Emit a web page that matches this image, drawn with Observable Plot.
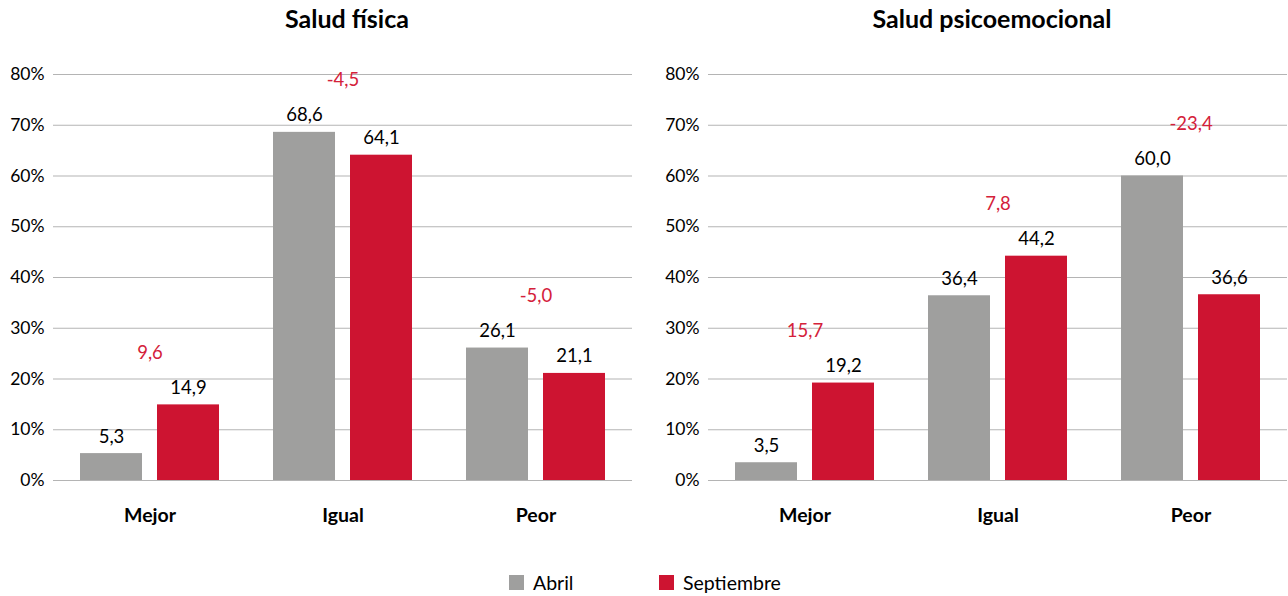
<!DOCTYPE html>
<html>
<head>
<meta charset="utf-8">
<script src="https://cdn.jsdelivr.net/npm/d3@7"></script>
<script src="https://cdn.jsdelivr.net/npm/@observablehq/plot@0.6"></script>
<style>
  html, body { margin: 0; padding: 0; background: #fff; }
  body { width: 1288px; height: 596px; position: relative; overflow: hidden; font-family: Lato, "Open Sans", sans-serif; color: #000; }
  .title { position: absolute; top: 3px; font-size: 25px; font-weight: 700; text-align: center; }
  .panel { position: absolute; top: 40px; }
  .panel svg g[aria-label^="fx-axis"] text { font-weight: 700; font-size: 19.5px; }
  .legend { position: absolute; top: 571px; left: 0; width: 1288px; font-size: 19.5px; }
  .legend .item { position: absolute; display: flex; align-items: center; }
  .legend .sw { width: 15px; height: 15px; margin-right: 9px; }
</style>
</head>
<body>
<div class="title" style="left:52px;width:590px;">Salud física</div>
<div class="title" style="left:697px;width:590px;">Salud psicoemocional</div>
<div class="panel" id="p1" style="left:0px;"></div>
<div class="panel" id="p2" style="left:644px;"></div>
<div class="legend">
  <div class="item" style="left:509px;"><div class="sw" style="background:#9f9f9e"></div>Abril</div>
  <div class="item" style="left:659px;"><div class="sw" style="background:#cd1431"></div>Septiembre</div>
</div>
<script>
const categories = ["Mejor", "Igual", "Peor"];
const series = ["Abril", "Septiembre"];
const fisicaAbril = [5.3, 68.6, 26.1];
const fisicaSeptiembre = [14.9, 64.1, 21.1];
const psicoAbril = [3.5, 36.4, 60.0];
const psicoSeptiembre = [19.2, 44.2, 36.6];
const yTicks = [0, 10, 20, 30, 40, 50, 60, 70, 80];

const GRAY = "#9f9f9e", RED = "#cd1431", RED_TEXT = "#d4213a";
const fmt = v => v.toFixed(1).replace(".", ",");

function panel(abril, sept, marginLeft, marginRight) {
  const data = categories.flatMap((c, i) => [
    {cat: c, serie: series[0], v: abril[i]},
    {cat: c, serie: series[1], v: sept[i]}
  ]);
  const diffs = categories.map((c, i) => ({cat: c, top: Math.max(abril[i], sept[i]), d: sept[i] - abril[i]}));
  return Plot.plot({
    width: 644, height: 500,
    marginLeft, marginRight, marginTop: 34, marginBottom: 60,
    style: {fontFamily: "Lato, 'Open Sans', sans-serif", fontSize: "17.5px", color: "#000", background: "transparent"},
    fx: {domain: categories, padding: 0, label: null, axis: "bottom", tickSize: 0, tickPadding: 28},
    x: {domain: series, axis: null, paddingInner: 0.195, paddingOuter: 0.35},
    y: {domain: [0, 80], ticks: yTicks, tickFormat: d => d + "%", tickSize: 0, tickPadding: 9, label: null},
    color: {domain: series, range: [GRAY, RED]},
    marks: [
      Plot.ruleY(yTicks, {stroke: "#b4b4b4", strokeWidth: 1.2}),
      Plot.barY(data, {fx: "cat", x: "serie", y: "v", fill: "serie"}),
      Plot.text(data, {fx: "cat", x: "serie", y: "v", text: d => fmt(d.v), dy: -17, fontSize: 18.5, fill: "#000"}),
      Plot.text(diffs, {fx: "cat", y: "top", text: d => fmt(d.d), dy: -52, fontSize: 18.5, fill: RED_TEXT})
    ]
  });
}

document.getElementById("p1").appendChild(panel(fisicaAbril, fisicaSeptiembre, 52, 12));
document.getElementById("p2").appendChild(panel(psicoAbril, psicoSeptiembre, 63, 1));
</script>
</body>
</html>
